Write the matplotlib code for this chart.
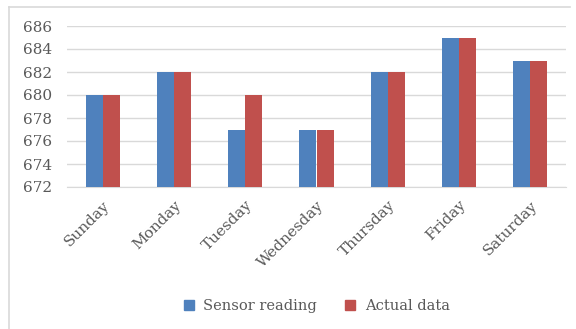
import matplotlib
matplotlib.use("Agg")
import matplotlib.pyplot as plt
from matplotlib.lines import Line2D
import numpy as np

days = ["Sunday", "Monday", "Tuesday", "Wednesday", "Thursday", "Friday", "Saturday"]
sensor_reading = [680, 682, 677, 677, 682, 685, 683]
actual_data = [680, 682, 680, 677, 682, 685, 683]
y_ticks = [672, 674, 676, 678, 680, 682, 684, 686]

blue = "#4F81BD"
red = "#C0504D"
text_color = "#595959"
font = ["DejaVu Serif", "Liberation Serif"]

W, H = 576, 329
fig = plt.figure(figsize=(W / 100, H / 100), dpi=100)
fig.patch.set_facecolor("white")

ax = fig.add_axes([67 / W, 1 - 187 / H, (566 - 67) / W, (187 - 26) / H])
x = np.arange(len(days))
bw = 0.24
base = y_ticks[0]
ax.bar(x - bw / 2, np.array(sensor_reading) - base, bw, bottom=base, color=blue,
       label="Sensor reading", zorder=3)
ax.bar(x + bw / 2, np.array(actual_data) - base, bw, bottom=base, color=red,
       label="Actual data", zorder=3)

ax.set_xlim(-0.5, len(days) - 0.5)
ax.set_ylim(y_ticks[0], y_ticks[-1])
ax.set_yticks(y_ticks)
ax.set_yticklabels([str(t) for t in y_ticks], family=font, fontsize=11, color=text_color)
ax.set_xticks(x)
ax.set_xticklabels(days, rotation=45, ha="right", rotation_mode="anchor",
                   family=font, fontsize=11, color=text_color)
ax.tick_params(axis="y", length=0, pad=11)
ax.tick_params(axis="x", length=0, pad=8)
ax.grid(axis="y", color="#D9D9D9", linewidth=1, zorder=0)
for s in ["top", "right", "left"]:
    ax.spines[s].set_visible(False)
ax.spines["bottom"].set_color("#D9D9D9")

handles = [Line2D([], [], marker="s", linestyle="none", markersize=7.5, color=blue),
           Line2D([], [], marker="s", linestyle="none", markersize=7.5, color=red)]
fig.legend(handles, ["Sensor reading", "Actual data"], loc="center",
           bbox_to_anchor=(312 / W, 1 - 306 / H), ncol=2, frameon=False,
           prop={"family": font, "size": 10.5}, labelcolor=text_color,
           handletextpad=0.0, columnspacing=1.3)

# chart frame
fig.add_artist(Line2D([9 / W, 9 / W], [0, 1 - 7 / H], color="#D9D9D9", linewidth=1.2))
fig.add_artist(Line2D([9 / W, 570 / W], [1 - 7 / H, 1 - 7 / H], color="#D9D9D9", linewidth=1.2))

fig.savefig("out.png", dpi=100, facecolor="white")
